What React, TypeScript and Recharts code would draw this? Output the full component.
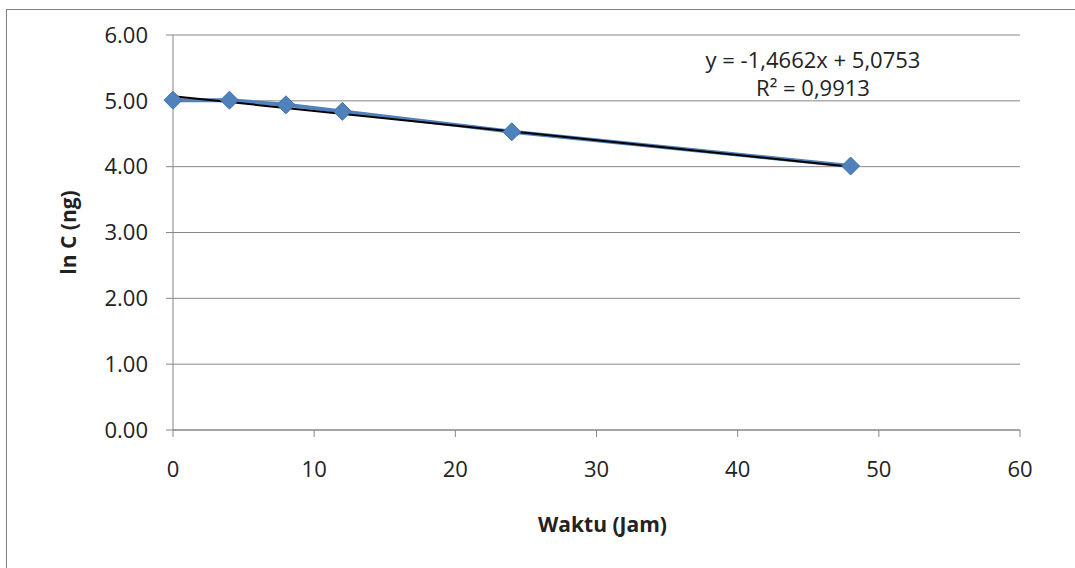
import React from "react";
import { ComposedChart, Line, XAxis, YAxis, CartesianGrid } from "recharts";

const hours = [0, 4, 8, 12, 24, 48];
const lnC = [5.01, 5.01, 4.94, 4.84, 4.53, 4.01];
const trendHours = [0, 48];
const trendLnC = [5.07, 4.0];
const xTicks = [0, 10, 20, 30, 40, 50, 60];
const yTicks = [0, 1, 2, 3, 4, 5, 6];

const points = hours.map((x, i) => ({ x, y: lnC[i] }));
const trend = trendHours.map((x, i) => ({ x, y: trendLnC[i] }));

const font = "'Open Sans', sans-serif";
const axisGray = "#868686";

const Diamond = (props: any) => {
  const { cx, cy } = props;
  if (cx == null || cy == null) return null;
  const r = 9;
  return (
    <polygon
      points={`${cx},${cy - r} ${cx + r},${cy} ${cx},${cy + r} ${cx - r},${cy}`}
      fill="#4F81BD"
      stroke="#4472A8"
      strokeWidth={1}
    />
  );
};

function App() {
  return (
    <div
      style={{
        position: "absolute",
        left: 0,
        top: 0,
        width: 1075,
        height: 568,
        overflow: "hidden",
        background: "#fff",
        fontFamily: font,
      }}
    >
      <div
        style={{
          position: "absolute",
          left: 6,
          top: 9,
          width: 1200,
          height: 700,
          border: "1.5px solid #808080",
        }}
      />
      <ComposedChart
        width={1075}
        height={568}
        margin={{ top: 35, right: 55, left: 93, bottom: 78 }}
        style={{ position: "absolute", left: 0, top: 0 }}
      >
        <CartesianGrid vertical={false} stroke={axisGray} strokeWidth={1} />
        <XAxis
          type="number"
          dataKey="x"
          domain={[0, 60]}
          ticks={xTicks}
          interval={0}
          height={60}
          stroke={axisGray}
          tickSize={7}
          tickMargin={24}
          tick={{ fill: "#222", fontSize: 22, fontFamily: font }}
          label={{
            content: (p: any) => (
              <text
                x={p.viewBox.x + p.viewBox.width / 2 + 6}
                y={p.viewBox.y + 102}
                textAnchor="middle"
                fontSize={21}
                fontWeight="bold"
                fill="#222"
                fontFamily={font}
              >
                Waktu (Jam)
              </text>
            ),
          }}
        />
        <YAxis
          type="number"
          domain={[0, 6]}
          ticks={yTicks}
          interval={0}
          width={80}
          stroke={axisGray}
          tickSize={7}
          tickMargin={18}
          tickFormatter={(v: number) => v.toFixed(2)}
          tick={{ fill: "#222", fontSize: 22, fontFamily: font }}
          label={{
            content: (p: any) => {
              const x = p.viewBox.x - 17;
              const y = p.viewBox.y + p.viewBox.height / 2;
              return (
                <text
                  x={x}
                  y={y}
                  transform={`rotate(-90, ${x}, ${y})`}
                  textAnchor="middle"
                  fontSize={21}
                  fontWeight="bold"
                  fill="#222"
                  fontFamily={font}
                >
                  ln C (ng)
                </text>
              );
            },
          }}
        />
        <Line
          data={points}
          dataKey="y"
          type="linear"
          stroke="#4F81BD"
          strokeWidth={4}
          dot={<Diamond />}
          activeDot={false}
          isAnimationActive={false}
        />
        <Line
          data={trend}
          dataKey="y"
          type="linear"
          stroke="#000"
          strokeWidth={2}
          dot={false}
          activeDot={false}
          isAnimationActive={false}
        />
      </ComposedChart>
      <div
        style={{
          position: "absolute",
          left: 813,
          top: 45,
          transform: "translateX(-50%)",
          textAlign: "center",
          fontSize: 22,
          lineHeight: "28px",
          color: "#222",
          whiteSpace: "nowrap",
        }}
      >
        <div>y = -1,4662x + 5,0753</div>
        <div>R² = 0,9913</div>
      </div>
    </div>
  );
}

export default App;
